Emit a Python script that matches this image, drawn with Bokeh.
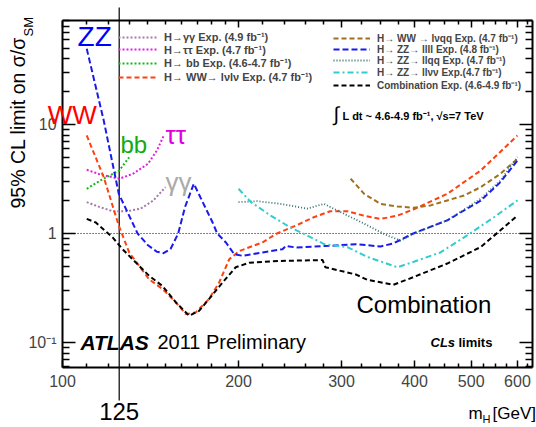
from bokeh.plotting import figure
from bokeh.models import LogAxis, FixedTicker, BasicTickFormatter, Legend, LegendItem, Label
from bokeh.embed import file_html
from bokeh.resources import INLINE

# ---------------- data (expected 95% CL limits on sigma/sigma_SM) ----------------
mass_gg = [110, 116, 122, 129, 136, 143, 150]
limit_gg = [1.94, 1.74, 1.60, 1.60, 1.69, 2.01, 2.66]

mass_tt = [110, 116, 125, 132, 140, 145, 149]
limit_tt = [3.84, 3.48, 3.18, 3.53, 4.36, 5.77, 7.93]

mass_bb = [110, 116, 122, 125, 130]
limit_bb = [2.57, 3.06, 3.53, 3.78, 5.0]

mass_lvlv = [110, 117.6, 124.8, 130, 140.6, 148.2, 156.3, 162.5, 169, 178, 185.3, 192.8,
             200.6, 219.9, 231.7, 250.5, 269, 287, 307, 327, 350, 374, 398, 455, 519, 600]
limit_lvlv = [7.93, 3.29, 1.18, 0.67, 0.38, 0.31, 0.233, 0.182, 0.189, 0.25, 0.355, 0.58,
              0.69, 0.83, 0.99, 1.18, 1.41, 1.60, 1.60, 1.46, 1.36, 1.46, 1.66, 2.31, 3.78,
              7.93]

mass_lvqq = [311, 328, 350, 374, 398, 426, 455, 486, 519, 561, 600]
limit_lvqq = [3.18, 2.31, 1.87, 1.77, 1.72, 1.81, 2.01, 2.23, 2.66, 3.53, 4.84]

mass_llll = [110, 117.6, 124.8, 134.4, 140, 145, 148.8, 153, 157.7, 162, 167.7, 174, 180.6,
             183.9, 190.3, 196.6, 203.1, 219.9, 237.8, 241, 250.5, 285.6, 317.9, 350, 368,
             398, 455, 519, 561, 600]
limit_llll = [49.5, 10.9, 2.31, 1.0, 0.78, 0.68, 0.66, 0.72, 1.0, 1.75, 2.86, 1.9, 1.26,
              1.0, 0.827, 0.646, 0.624, 0.67, 0.718, 0.77, 0.744, 0.77, 0.798, 0.76, 0.81,
              1.0, 1.32, 2.0, 2.96, 4.68]

mass_llqq = [200, 215, 236, 262, 280, 299, 328, 359, 379, 399, 455, 519, 561, 600]
limit_llqq = [1.94, 1.98, 1.87, 1.69, 1.87, 1.57, 1.23, 0.96, 0.86, 1.0, 1.32, 2.08, 3.06,
              5.02]

mass_llvv = [200, 210, 227, 245, 262, 280, 307, 332, 374, 399, 443, 492, 547, 600]
limit_llvv = [2.57, 1.94, 1.46, 1.14, 0.96, 0.80, 0.75, 0.61, 0.49, 0.55, 0.67, 0.96, 1.41,
              2.01]

mass_comb = [110, 114, 121.8, 126.6, 133.5, 140.6, 148.2, 156.3, 164.6, 171.2, 178, 187.8,
             197.8, 208.7, 234.9, 278.5, 281.5, 317.8, 332, 368, 398, 455, 519, 561, 600]
limit_comb = [1.36, 1.26, 0.92, 0.72, 0.54, 0.41, 0.33, 0.233, 0.176, 0.195, 0.25, 0.355,
              0.49, 0.54, 0.56, 0.57, 0.49, 0.42, 0.376, 0.338, 0.397, 0.53, 0.75, 1.07, 1.46]

MH_MARK = 125          # vertical marker at mH = 125 GeV
REF_LIMIT = 1          # sigma/sigma_SM = 1 reference line

x_ticks = [100, 200, 300, 400, 500, 600]
x_minor = [110, 120, 130, 140, 150, 160, 170, 180, 190, 220, 240, 260, 280,
           325, 350, 375, 425, 450, 475, 525, 550, 575, 625]
y_ticks = [0.1, 1, 10]
y_minor = [0.06, 0.07, 0.08, 0.09, 0.2, 0.3, 0.4, 0.5, 0.6, 0.7, 0.8, 0.9,
           2, 3, 4, 5, 6, 7, 8, 9, 20, 30, 40, 50, 60, 70, 80, 90]
y_labels = {0.1: "10\u207b\u00b9", 1: "1", 10: "10"}

left_legend = ["H\u2192\u03b3\u03b3 Exp. (4.9 fb\u207b\u00b9)",
               "H\u2192\u03c4\u03c4 Exp. (4.7 fb\u207b\u00b9)",
               "H\u2192 bb Exp. (4.6-4.7 fb\u207b\u00b9)",
               "H\u2192 WW\u2192 l\u03bdl\u03bd Exp. (4.7 fb\u207b\u00b9)"]
right_legend = ["H\u2192 WW \u2192 l\u03bdqq Exp. (4.7 fb\u207b\u00b9)",
                "H\u2192 ZZ\u2192 llll Exp. (4.8 fb\u207b\u00b9)",
                "H\u2192 ZZ\u2192 llqq Exp. (4.7 fb\u207b\u00b9)",
                "H\u2192 ZZ\u2192 ll\u03bd\u03bd Exp.(4.7 fb\u207b\u00b9)",
                "Combination Exp. (4.6-4.9 fb\u207b\u00b9)"]

# visible plotting box (axes are pinned at these values)
X_LO, X_HI = 100, 636.6
Y_LO, Y_HI = 0.0593, 90

FONT = "Liberation Sans"

p = figure(x_axis_type="log", y_axis_type="log", x_range=(78.32, 646.7),
           y_range=(0.01659, 137.3), width=536, height=427, min_border=0,
           min_border_left=0, min_border_right=0, min_border_top=0, min_border_bottom=0,
           output_backend="svg", toolbar_location=None)
p.grid.visible = False
p.outline_line_color = None
p.background_fill_color = "white"
p.border_fill_color = "white"


def style_axis(ax, ticks, minor, major_len, minor_len, loc, bounds, labels=None):
    ax.ticker = FixedTicker(ticks=ticks, minor_ticks=minor)
    ax.formatter = BasicTickFormatter()
    ax.fixed_location = loc
    ax.bounds = bounds
    ax.major_tick_in = major_len
    ax.major_tick_out = 0
    ax.minor_tick_in = minor_len
    ax.minor_tick_out = 0
    ax.axis_line_width = 2
    ax.major_tick_line_width = 1.5
    ax.minor_tick_line_width = 1.5
    ax.major_label_text_font = FONT
    ax.major_label_text_font_size = "16px"
    if labels is not None:
        ax.major_label_overrides = labels


style_axis(p.xaxis[0], x_ticks, x_minor, 7, 4, Y_LO, (X_LO, X_HI))
p.xaxis[0].major_label_standoff = 8
style_axis(p.yaxis[0], y_ticks, y_minor, 13, 7, X_LO, (Y_LO, Y_HI), y_labels)
p.yaxis[0].major_label_standoff = 6

top = LogAxis()
style_axis(top, x_ticks, x_minor, 7, 4, Y_HI, (X_LO, X_HI), {t: "" for t in x_ticks})
p.add_layout(top, "above")
right = LogAxis()
style_axis(right, y_ticks, y_minor, 13, 7, X_HI, (Y_LO, Y_HI), {t: "" for t in y_ticks})
p.add_layout(right, "right")

# reference line at 1 and the mH = 125 GeV marker
p.segment(x0=[X_LO], x1=[X_HI], y0=[REF_LIMIT], y1=[REF_LIMIT], line_color="black",
          line_dash="1 2", line_width=1)
p.segment(x0=[MH_MARK], x1=[MH_MARK], y0=[0.02935], y1=[118.4], line_color="black",
          line_width=1.2)

r_gg = p.line(mass_gg, limit_gg, line_color="#a878a8", line_width=2, line_dash="2 2")
r_tt = p.line(mass_tt, limit_tt, line_color="#dd22dd", line_width=2, line_dash="2 2")
r_bb = p.line(mass_bb, limit_bb, line_color="#11bb11", line_width=2, line_dash="2 2")
r_lvlv = p.line(mass_lvlv, limit_lvlv, line_color="#ff4010", line_width=2, line_dash="5 3")
r_lvqq = p.line(mass_lvqq, limit_lvqq, line_color="#a0701a", line_width=2, line_dash="5 3")
r_llll = p.line(mass_llll, limit_llll, line_color="#1a1aee", line_width=2, line_dash="6 3")
r_llqq = p.line(mass_llqq, limit_llqq, line_color="#2f6f6f", line_width=1.8, line_dash="1 2")
r_llvv = p.line(mass_llvv, limit_llvv, line_color="#33cccc", line_width=2, line_dash="6 3 2 3")
r_comb = p.line(mass_comb, limit_comb, line_color="black", line_width=2, line_dash="5 3")

ITEM_H = 20


def add_legend(renderer, text, x, yc, gw, size):
    leg = Legend(items=[LegendItem(label=text, renderers=[renderer])],
                 location=(x, 427 - yc - ITEM_H / 2), orientation="vertical",
                 glyph_width=gw, glyph_height=ITEM_H, label_height=ITEM_H,
                 label_standoff=7, spacing=0, padding=0, margin=0,
                 background_fill_alpha=0, border_line_alpha=0, label_text_font=FONT,
                 label_text_font_style="bold", label_text_font_size=size,
                 label_text_line_height=1.0)
    p.add_layout(leg)


for t, r, yc in zip(left_legend, [r_gg, r_tt, r_bb, r_lvlv], [36.7, 49, 62.7, 76.7]):
    add_legend(r, t, 118, yc, 39, "11px")
for t, r, yc in zip(right_legend, [r_lvqq, r_llll, r_llqq, r_llvv, r_comb],
                    [37.7, 49.3, 60.3, 71.7, 85]):
    add_legend(r, t, 333, yc, 37, "10px")


def label(x, y, text, size, color="black", style="normal", align="left", angle=0):
    p.add_layout(Label(x=x, y=y, text=text, text_font=FONT, text_font_size=size,
                       text_color=color, text_font_style=style, text_align=align,
                       text_baseline="middle", angle=angle))


label(106.1, 64.0, "ZZ", "28px", "#0000ff")
label(94.3, 12.2, "WW", "26px", "#ff0000")
label(125.6, 6.5, "bb", "24px", "#11aa11")
label(150.0, 8.0, "\u03c4\u03c4", "26px", "#dd00dd")
label(150.0, 2.95, "\u03b3\u03b3", "26px", "#aaaaaa")
label(318.3, 0.225, "Combination", "24px")
label(107.3, 0.1010, "ATLAS", "21px", style="bold italic")
label(145.3, 0.1010, "2011 Preliminary", "20px")
label(426, 0.0993, "CLs", "13px", style="bold italic")
label(475.6, 0.0993, "limits", "13px", style="bold")
label(290.8, 12.48, "\u222b", "20px")
label(301.3, 12.09, "L dt ~ 4.6-4.9 fb\u207b\u00b9, \u221as=7 TeV", "11px", style="bold")
label(125, 0.02306, "125", "24px", align="center")
label(494.8, 0.0223, "m", "17px")
label(522.9, 0.02005, "H", "11px")
label(543.8, 0.0223, "[GeV]", "17px")
label(83.75, 1.695, "95% CL limit on \u03c3/\u03c3", "19.5px", angle=1.5708)
label(87.6, 64.2, "SM", "13px", angle=1.5708)

open("out.html", "w").write(file_html(p, INLINE))
